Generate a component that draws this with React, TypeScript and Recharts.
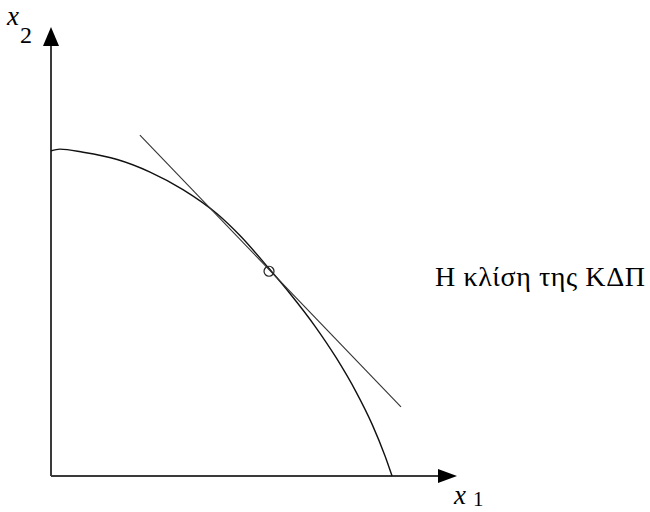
import {
  ComposedChart,
  Line,
  Scatter,
  XAxis,
  YAxis,
  ReferenceLine,
  ReferenceDot,
} from "recharts";

// production possibilities frontier (0..100 scale)
const frontierX = [0, 2.2, 7.9, 16.3, 24.4, 32.5, 40.9, 46.6, 53.7, 58.9, 65.0, 70.2, 75.1, 79.1, 82.3, 84.0];
const frontierY = [72.4, 72.8, 72.1, 70.5, 67.7, 63.8, 58.4, 53.5, 46.2, 40.6, 33.4, 26.4, 18.8, 11.5, 4.4, 0];

// tangent line ends
const tangentX = [21.9, 86.2];
const tangentY = [75.9, 15.4];

// point of tangency
const pointX = [53.7];
const pointY = [45.6];

const frontier = frontierX.map((x, i) => ({ x, y: frontierY[i] }));
const tangent = tangentX.map((x, i) => ({ x, y: tangentY[i] }));
const tangencyPoint = pointX.map((x, i) => ({ x, y: pointY[i] }));

const AXIS_COLOR = "#3a3a3a";
const SERIF = "'Liberation Serif', 'Times New Roman', serif";

const UpArrow = ({ cx, cy }: { cx?: number; cy?: number }) => {
  if (cx == null || cy == null) return null;
  return <polygon points={`${cx},${cy} ${cx - 8},${cy + 19} ${cx + 8},${cy + 19}`} fill="#000" />;
};

const RightArrow = ({ cx, cy }: { cx?: number; cy?: number }) => {
  if (cx == null || cy == null) return null;
  return <polygon points={`${cx},${cy} ${cx - 19},${cy - 7} ${cx - 19},${cy + 7}`} fill="#000" />;
};

const HollowDot = ({ cx, cy }: { cx?: number; cy?: number }) => {
  if (cx == null || cy == null) return null;
  return <circle cx={cx} cy={cy} r={5} fill="none" stroke="#222" strokeWidth={1.2} />;
};

const label = (left: number, top: number, size: number, italic: boolean, lineHeight = 1) => ({
  position: "absolute" as const,
  left,
  top,
  fontFamily: SERIF,
  fontSize: size,
  fontStyle: italic ? "italic" : "normal",
  lineHeight,
  whiteSpace: "nowrap" as const,
  color: "#000",
});

const App = () => {
  return (
    <div style={{ position: "absolute", left: 0, top: 0, width: 650, height: 512, background: "#fff", overflow: "hidden" }}>
      <ComposedChart
        width={650}
        height={512}
        margin={{ top: 27, right: 193, left: 51, bottom: 36 }}
      >
        <XAxis type="number" dataKey="x" domain={[0, 100]} hide />
        <YAxis type="number" dataKey="y" domain={[0, 100]} hide />
        <ReferenceLine
          segment={[{ x: 0, y: 0 }, { x: 0, y: 97 }]}
          stroke={AXIS_COLOR}
          strokeWidth={2}
          ifOverflow="visible"
        />
        <ReferenceLine
          segment={[{ x: 0, y: 0 }, { x: 97, y: 0 }]}
          stroke={AXIS_COLOR}
          strokeWidth={2}
          ifOverflow="visible"
        />
        <Line
          data={frontier}
          dataKey="y"
          type="monotone"
          stroke="#111"
          strokeWidth={1.4}
          dot={false}
          isAnimationActive={false}
        />
        <Line
          data={tangent}
          dataKey="y"
          type="linear"
          stroke="#333"
          strokeWidth={1.1}
          dot={false}
          isAnimationActive={false}
        />
        <Scatter data={tangencyPoint} dataKey="y" shape={<HollowDot />} isAnimationActive={false} />
        <ReferenceDot x={0} y={100} ifOverflow="visible" shape={<UpArrow />} />
        <ReferenceDot x={100} y={0} ifOverflow="visible" shape={<RightArrow />} />
      </ComposedChart>

      <div style={label(7, 3, 27, true)}>x</div>
      <div style={label(20, 23, 24, false)}>2</div>

      <div style={label(454, 482, 27, true)}>x</div>
      <div style={label(473, 491, 21, false, 0.8)}>1</div>

      <div style={{ ...label(435, 263, 28, false), letterSpacing: 0.6 }}>Η κλίση της ΚΔΠ</div>
    </div>
  );
};

export default App;
